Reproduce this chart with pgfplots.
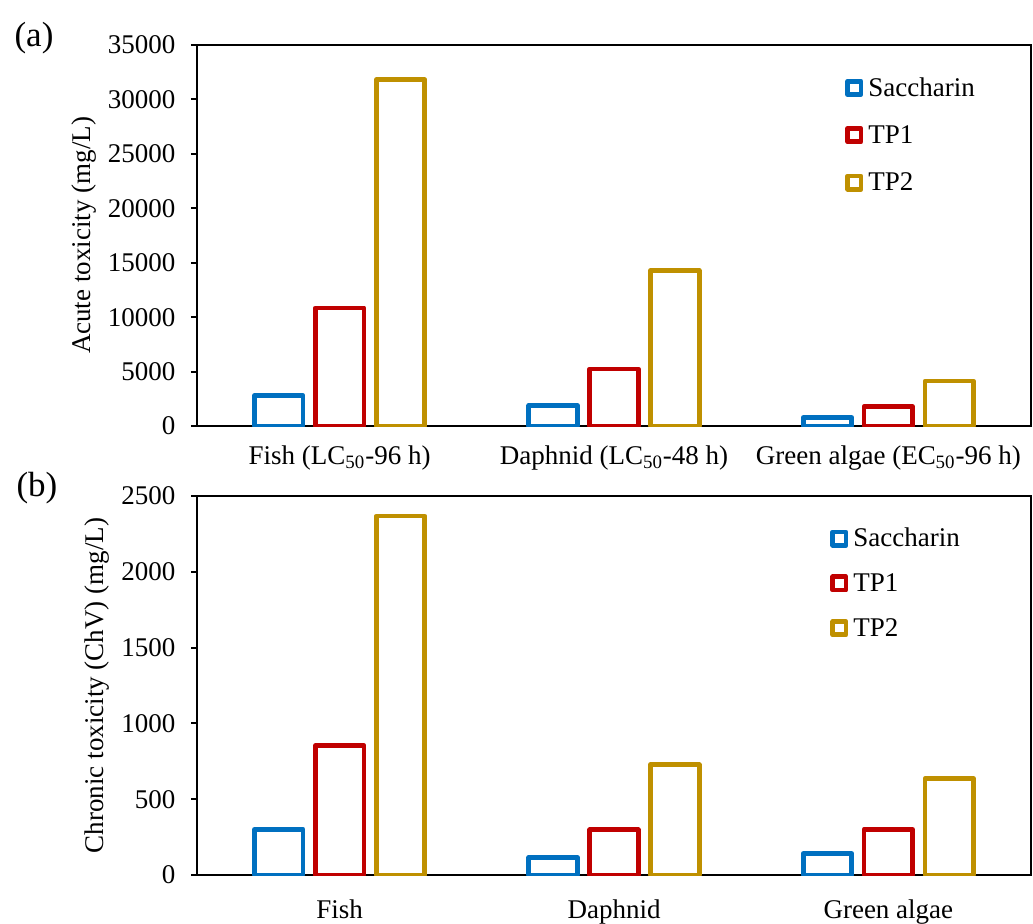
\documentclass[border=0pt]{standalone}
\usepackage{fontspec}
\setmainfont{Liberation Serif}
\usepackage{pgfplots}
\pgfplotsset{compat=1.18}
\definecolor{cblue}{RGB}{0,112,192}
\definecolor{cred}{RGB}{192,0,0}
\definecolor{cgold}{RGB}{191,144,0}
\pgfplotsset{
  sbar/.style={draw=#1, fill=none, line width=2.35pt, line join=round,
    legend image code/.code={\draw[##1, line width=2.4pt, line join=round] (1.2pt,-2.7pt) rectangle (7.8pt,3.9pt);}},
  myaxis/.style={
    scale only axis, width=417pt,
    xmin=-0.52, xmax=2.52, ymin=0,
    ybar, bar width=0.177, bar shift=0pt,
    xtick={0,1,2}, xtick style={draw=none},
    ytick pos=left, tick align=outside,
    major tick length=3pt,
    line width=1pt,
    every tick/.style={black, line width=1pt},
    font=\fontsize{13.5pt}{16pt}\selectfont,
    /pgf/number format/assume math mode=true,
    /pgf/number format/1000 sep={},
    scaled y ticks=false,
    yticklabel style={xshift=-4pt},
    ylabel style={yshift=-1.25pt},
    legend style={draw=none, fill=none, anchor=north west, column sep=1.5pt,
      nodes={inner sep=1pt, text height=10pt, text depth=3pt}},
    legend cell align=left,
  }
}
\begin{document}
\begin{tikzpicture}
\useasboundingbox (0,0) rectangle (516.5pt,-461.5pt);
\begin{axis}[myaxis, at={(98.5pt,-213pt)}, anchor=south west, height=190.5pt,
  ymax=35000, ytick={0,5000,...,35000},
  xticklabels={Fish (LC\textsubscript{50}-96 h), Daphnid (LC\textsubscript{50}-48 h), Green algae (EC\textsubscript{50}-96 h)},
  xticklabel style={yshift=-3pt},
  ylabel={Acute toxicity (mg/L)},
  legend style={at={(0.769,0.937)}, row sep=8.7pt}]
\addplot[sbar=cblue] coordinates {(-0.222,2800) (0.778,1880) (1.778,780)};
\addlegendentry{Saccharin}
\addplot[sbar=cred] coordinates {(0,10850) (1,5236) (2,1790)};
\addlegendentry{TP1}
\addplot[sbar=cgold] coordinates {(0.222,31800) (1.222,14280) (2.222,4130)};
\addlegendentry{TP2}
\end{axis}
\begin{axis}[myaxis, at={(98.5pt,-437.5pt)}, anchor=south west, height=189.5pt,
  ymax=2500, ytick={0,500,...,2500},
  xticklabels={Fish, Daphnid, Green algae},
  xticklabel style={yshift=-5.5pt},
  ylabel={Chronic toxicity (ChV) (mg/L)},
  legend style={at={(0.751,0.937)}, row sep=7.4pt}]
\addplot[sbar=cblue] coordinates {(-0.222,301) (0.778,116) (1.778,142)};
\addlegendentry{Saccharin}
\addplot[sbar=cred] coordinates {(0,853) (1,298) (2,301)};
\addlegendentry{TP1}
\addplot[sbar=cgold] coordinates {(0.222,2368) (1.222,728) (2.222,635)};
\addlegendentry{TP2}
\end{axis}
\node[font=\fontsize{17.5pt}{20pt}\selectfont] at (17pt,-19pt) {(a)};
\node[font=\fontsize{17.5pt}{20pt}\selectfont] at (18.5pt,-244pt) {(b)};
\end{tikzpicture}
\end{document}
